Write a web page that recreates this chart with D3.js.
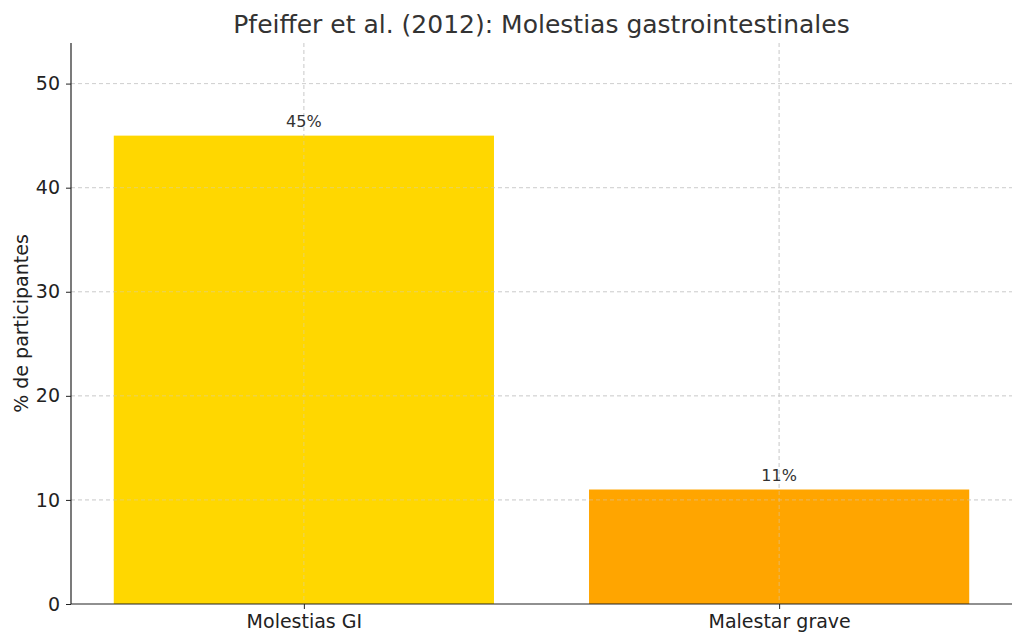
<!DOCTYPE html>
<html><head><meta charset="utf-8">
<script src="https://cdn.jsdelivr.net/npm/d3@7"></script>
<style>body{margin:0;background:#fff;font-family:"DejaVu Sans",sans-serif}</style>
</head><body><div id="chart"></div>
<script>
var categories = ["Molestias GI", "Malestar grave"];
var values = [45, 11];
var colors = ["#FFD700", "#FFA500"];
var yTicks = [0, 10, 20, 30, 40, 50];

var W = 1024, H = 642, m = {l: 71, r: 12, t: 43, b: 38};
var svg = d3.select("#chart").append("svg").attr("width", W).attr("height", H);

// matplotlib-style: category positions 0..n-1, limits with small margin
var x = d3.scaleLinear().domain([-0.49, categories.length - 1 + 0.49]).range([m.l, W - m.r]);
var y = d3.scaleLinear().domain([0, 53.9]).range([H - m.b, m.t]);
var bw = 0.8;

var g = svg.append("g");
// grid
g.selectAll(".gy").data(yTicks.slice(1)).enter().append("line")
  .attr("x1", m.l).attr("x2", W - m.r).attr("y1", y).attr("y2", y)
  .attr("stroke", "#ccc").attr("stroke-dasharray", "4,3").attr("stroke-width", 0.8);
g.selectAll(".gx").data(categories).enter().append("line")
  .attr("x1", function(d, i){ return x(i); }).attr("x2", function(d, i){ return x(i); })
  .attr("y1", m.t).attr("y2", H - m.b)
  .attr("stroke", "#ccc").attr("stroke-dasharray", "4,3").attr("stroke-width", 0.8);

// bars
g.selectAll(".bar").data(values).enter().append("rect")
  .attr("x", function(d, i){ return x(i - bw / 2); })
  .attr("width", x(bw) - x(0))
  .attr("y", function(d){ return y(d); })
  .attr("height", function(d){ return y(0) - y(d); })
  .attr("fill", function(d, i){ return colors[i]; });

// grid drawn over bars like reference
g.selectAll(".gx2").data(categories).enter().append("line")
  .attr("x1", function(d, i){ return x(i); }).attr("x2", function(d, i){ return x(i); })
  .attr("y1", m.t).attr("y2", H - m.b)
  .attr("stroke", "#ccc").attr("stroke-opacity", 0.6).attr("stroke-dasharray", "4,3").attr("stroke-width", 0.8);
g.selectAll(".gy2").data(yTicks.slice(1)).enter().append("line")
  .attr("x1", m.l).attr("x2", W - m.r).attr("y1", y).attr("y2", y)
  .attr("stroke", "#ccc").attr("stroke-opacity", 0.6).attr("stroke-dasharray", "4,3").attr("stroke-width", 0.8);

// value labels
g.selectAll(".lbl").data(values).enter().append("text")
  .attr("x", function(d, i){ return x(i); }).attr("y", function(d){ return y(d) - 9; })
  .attr("text-anchor", "middle").attr("font-size", 16).attr("fill", "#333")
  .text(function(d){ return d + "%"; });

// axes
var yAxis = svg.append("g").attr("transform", "translate(" + m.l + ",0)")
  .call(d3.axisLeft(y).tickValues(yTicks).tickSize(5).tickPadding(6));
var xAxis = svg.append("g").attr("transform", "translate(0," + (H - m.b) + ")")
  .call(d3.axisBottom(x).tickValues(d3.range(categories.length)).tickFormat(function(i){ return categories[i]; }).tickSize(5).tickPadding(6));
[yAxis, xAxis].forEach(function(a){
  a.select(".domain").attr("stroke", "#222").attr("stroke-width", 1.2);
  a.selectAll(".tick line").attr("stroke", "#222");
  a.selectAll("text").attr("font-size", 19).attr("fill", "#222").attr("font-family", "DejaVu Sans");
});
yAxis.select(".domain").attr("d", "M0," + (H - m.b) + "V" + m.t);
xAxis.select(".domain").attr("d", "M" + m.l + ",0H" + (W - m.r));

svg.append("text").attr("x", (m.l + W - m.r) / 2).attr("y", 33).attr("text-anchor", "middle")
  .attr("font-size", 25).attr("fill", "#333").text("Pfeiffer et al. (2012): Molestias gastrointestinales");
svg.append("text").attr("transform", "translate(28," + ((m.t + H - m.b) / 2) + ") rotate(-90)")
  .attr("text-anchor", "middle").attr("font-size", 19).attr("fill", "#222").text("% de participantes");
</script></body></html>
